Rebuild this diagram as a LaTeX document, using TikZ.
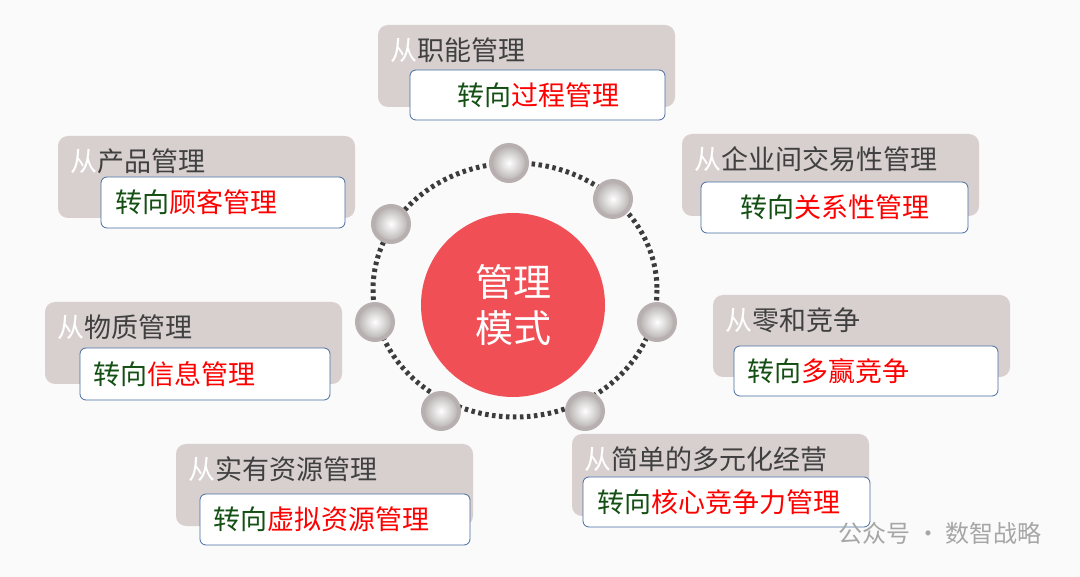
\documentclass[tikz,border=0pt]{standalone}
\usepackage{fontspec}
\newfontfamily\cjk{Noto Sans CJK SC}
\usetikzlibrary{positioning,calc}
\definecolor{backgray}{RGB}{216,207,207}
\definecolor{framblue}{RGB}{70,110,160}
\definecolor{fromgray}{RGB}{64,64,64}
\definecolor{togreen}{RGB}{20,80,20}
\definecolor{hubred}{RGB}{240,80,85}
\definecolor{dotgray}{RGB}{60,60,60}
\begin{document}
\begin{tikzpicture}
            [x=1pt, y=-1pt, font=\cjk,
            back/.style={fill=backgray, rounded corners=10pt},
            front/.style={fill=white, draw=framblue, rounded corners=6pt, line width=0.8pt},
            from text/.style={anchor=west, inner sep=0pt, font=\cjk\fontsize{27}{27}\selectfont, text=fromgray},
            to text/.style={anchor=west, inner sep=0pt, font=\cjk\fontsize{27}{27}\selectfont},
            bead/.style={circle, minimum size=36pt, inner sep=0pt, draw=backgray!85!black, line width=4pt,
                inner color=white, outer color=backgray!60!gray}
            ]
            \fill[white!96!gray] (0,0) rectangle (1080,577);

            % Ring and hub
            \draw[dotgray, line width=5pt, dash pattern=on 3.5pt off 3.5pt] (515,290) ellipse (142 and 127);
            \node (hub) [circle, fill=hubred, minimum size=184pt, text=white, align=center,
                font=\cjk\fontsize{38}{46}\selectfont] at (513,305) {管理\\模式};
            \foreach \x/\y [count=\i] in {509/163, 613/199, 657/322, 585/411, 441/411, 375/322, 391/224}
                \node (b\i) [bead] at (\x,\y) {};

            % Boxes: gray back, white front, two lines of text
            \foreach \gx/\gy/\wx/\wy/\wxx/\wyy/\tx/\from/\to [count=\i] in {
                378/25/410/70/665/120/457/职能管理/过程管理,
                58/136/101/177/345/228/115/产品管理/顾客管理,
                682/134/701/182/968/233/740/企业间交易性管理/关系性管理,
                45/302/80/348/330/400/93/物质管理/信息管理,
                713/295/734/346/998/396/747/零和竞争/多赢竞争,
                176/444/200/494/470/545/213/实有资源管理/虚拟资源管理,
                572/434/583/477/870/527/597/简单的多元化经营/核心竞争力管理}{
                \fill[back] (\gx,\gy) rectangle ++(297,82);
                \node (from\i) [from text] at (\gx+12,\gy+25) {\textcolor{white}{从}\from};
                \draw[front] (\wx,\wy) rectangle (\wxx,\wyy);
                \node (to\i) [to text] at (\tx,\wy/2+\wyy/2) {\textcolor{togreen}{转向}\textcolor{red}{\to}};
            }

            \node (mark) [anchor=east, text=gray!70, font=\cjk\fontsize{24}{24}\selectfont] at (1045,533) {公众号 · 数智战略};
        \end{tikzpicture}
\end{document}
